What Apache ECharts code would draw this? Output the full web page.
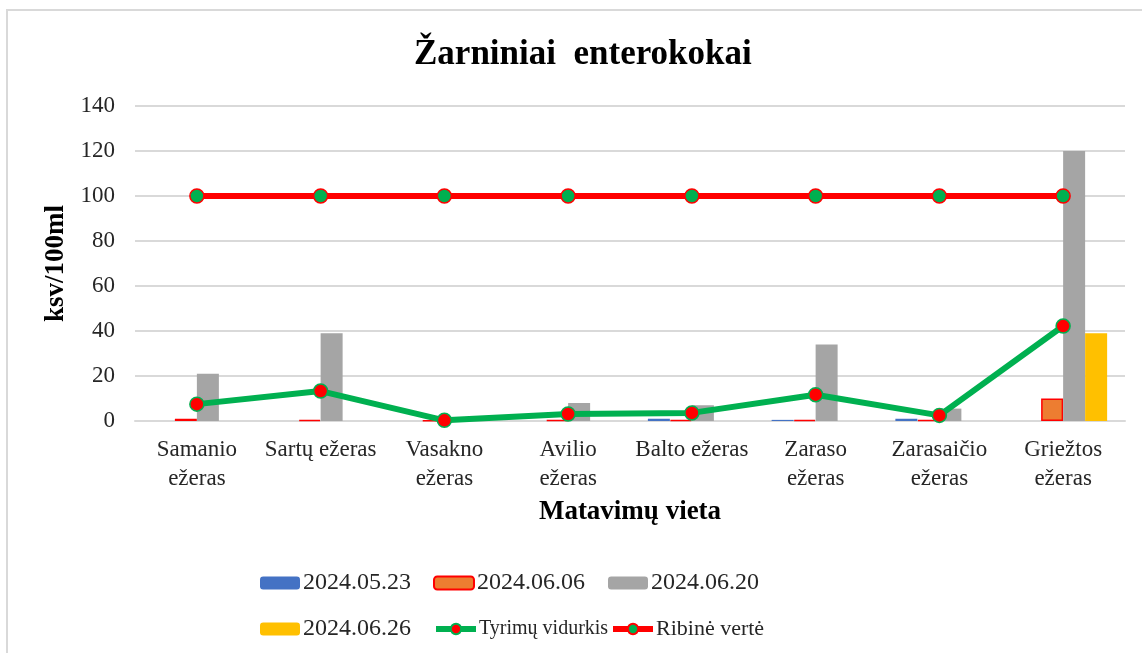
<!DOCTYPE html>
<html>
<head>
<meta charset="utf-8">
<script src="https://cdn.jsdelivr.net/npm/echarts@6/dist/echarts.min.js"></script>
<style>html,body{margin:0;padding:0;background:#fff}#c{width:1142px;height:653px}</style>
</head>
<body>
<div id="c"></div>
<script>
var categories = ['Samanio\nežeras', 'Sartų ežeras', 'Vasakno\nežeras', 'Avilio\nežeras', 'Balto ežeras', 'Zaraso\nežeras', 'Zarasaičio\nežeras', 'Griežtos\nežeras'];
var s0523 = [0, 0, 0, 0, 1, 0.5, 1, 0];
var s0606 = [1, 0.5, 0.3, 0.5, 0.5, 0.5, 0.5, 10];
var s0620 = [21, 39, 0, 8, 7, 34, 5.5, 120];
var s0626 = [0, 0, 0, 0, 0, 0, 0, 39];
var vidurkis = [7.5, 13.3, 0.3, 3.1, 3.6, 11.7, 2.5, 42.2];
var ribine = [100, 100, 100, 100, 100, 100, 100, 100];
var yTicks = [0, 20, 40, 60, 80, 100, 120, 140];

var FONT = '"Liberation Serif", "Times New Roman", serif';
var chart = echarts.init(document.getElementById('c'));

function leg(name, left, top, fs) {
  return {
    data: [name], left: left, top: top, itemWidth: 40, itemHeight: 13, itemGap: 0,
    lineStyle: { width: 6 },
    textStyle: { fontFamily: FONT, fontSize: fs, color: '#262626', padding: [0, 0, 0, -2] },
    selectedMode: false
  };
}

chart.setOption({
  animation: false,
  backgroundColor: '#fff',
  graphic: [{
    type: 'rect', shape: { x: 7, y: 10, width: 1300, height: 800 },
    style: { fill: 'none', stroke: '#D9D9D9', lineWidth: 2 }, silent: true
  }],
  title: {
    text: 'Žarniniai  enterokokai', left: 409, top: 32,
    textStyle: { fontFamily: FONT, fontSize: 35, fontWeight: 'bold', color: '#000' }
  },
  legend: [
    leg('2024.05.23', 255, 566, 24),
    leg('2024.06.06', 428, 566, 24),
    leg('2024.06.20', 603, 566, 24),
    leg('2024.06.26', 255, 612, 24),
    leg('Tyrimų vidurkis', 428, 614, 20),
    leg('Ribinė vertė', 605, 613, 22)
  ],
  grid: { left: 135, right: 17, top: 106, bottom: 232, containLabel: false },
  xAxis: {
    type: 'category', data: categories,
    axisLine: { lineStyle: { color: '#D9D9D9', width: 2 } },
    axisTick: { show: false },
    axisLabel: { fontFamily: FONT, fontSize: 23, color: '#262626', lineHeight: 29, margin: 14, interval: 0 },
    name: 'Matavimų vieta', nameLocation: 'middle', nameGap: 78,
    nameTextStyle: { fontFamily: FONT, fontSize: 27, fontWeight: 'bold', color: '#000' }
  },
  yAxis: {
    type: 'value', min: 0, max: 140, interval: 20,
    axisLine: { show: false }, axisTick: { show: false },
    axisLabel: { fontFamily: FONT, fontSize: 23, color: '#262626', margin: 20,
      formatter: function (v) { return yTicks.indexOf(v) >= 0 ? String(v) : ''; } },
    splitLine: { lineStyle: { color: '#D9D9D9', width: 2 } },
    name: 'ksv/100ml', nameLocation: 'middle', nameGap: 65,
    nameTextStyle: { fontFamily: FONT, fontSize: 27, fontWeight: 'bold', color: '#000' }
  },
  series: [
    { name: '2024.05.23', type: 'bar', data: s0523, barWidth: 22, barGap: '0%', itemStyle: { color: '#4472C4' } },
    { name: '2024.06.06', type: 'bar', data: s0606, barWidth: 22, barGap: '0%', itemStyle: { color: '#ED7D31', borderColor: '#FF0000', borderWidth: 1.5 } },
    { name: '2024.06.20', type: 'bar', data: s0620, barWidth: 22, barGap: '0%', itemStyle: { color: '#A5A5A5' } },
    { name: '2024.06.26', type: 'bar', data: s0626, barWidth: 22, barGap: '0%', itemStyle: { color: '#FFC000' } },
    { name: 'Tyrimų vidurkis', type: 'line', data: vidurkis, z: 5,
      lineStyle: { color: '#00B050', width: 6 }, symbol: 'circle', symbolSize: 14,
      itemStyle: { color: '#FF0000', borderColor: '#00B050', borderWidth: 1.5 } },
    { name: 'Ribinė vertė', type: 'line', data: ribine, z: 5,
      lineStyle: { color: '#FF0000', width: 6 }, symbol: 'circle', symbolSize: 14,
      itemStyle: { color: '#00B050', borderColor: '#FF0000', borderWidth: 1.5 } }
  ]
});
</script>
</body>
</html>
